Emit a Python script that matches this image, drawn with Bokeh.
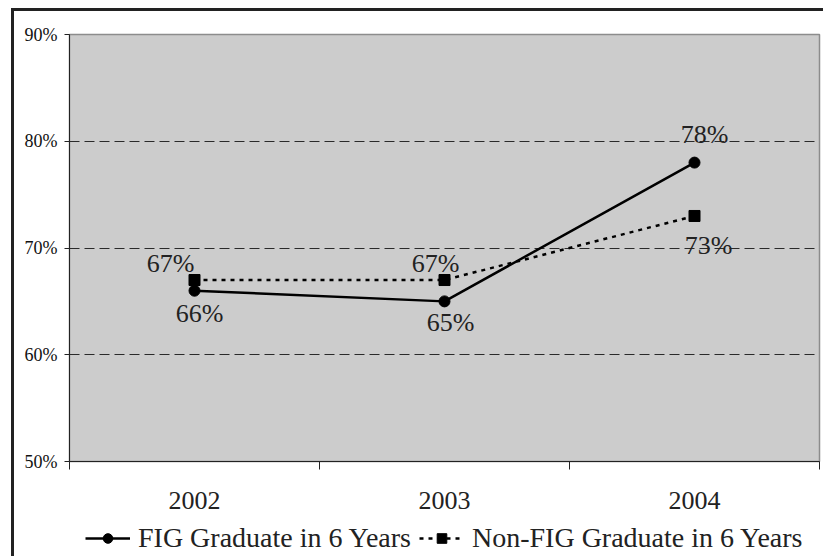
from bokeh.plotting import figure
from bokeh.layouts import column
from bokeh.models import (FixedTicker, Legend, LegendItem, InlineStyleSheet,
                          ColumnDataSource, Range1d)
from bokeh.core.properties import value
from bokeh.embed import file_html
from bokeh.resources import INLINE

# Graduation within six years, by entering cohort
years = ["2002", "2003", "2004"]
fig_grad = [66, 65, 78]
non_fig_grad = [67, 67, 73]
y_ticks = [50, 60, 70, 80, 90]
y_tick_labels = ["50%", "60%", "70%", "80%", "90%"]
series_names = ["FIG Graduate in 6 Years", "Non-FIG Graduate in 6 Years"]

# screen offsets of the value labels (px, right / down)
fig_label_dx = [5, 6, 10]
fig_label_dy = [23, 21, -28]
non_label_dx = [-24, -9, 14]
non_label_dy = [-17, -17, 30]

FONT = "Liberation Serif"
INK = "#222222"
xs = [i + 0.5 for i in range(len(years))]

p = figure(width=823, height=518, output_backend="svg", toolbar_location=None,
           x_range=Range1d(0, len(years)), y_range=Range1d(50, 90),
           min_border_left=69, min_border_right=4, min_border_top=34,
           min_border_bottom=57)
p.background_fill_color = "#cccccc"
p.border_fill_color = "white"
p.outline_line_color = "#8c8c8c"
p.outline_line_width = 1.5

# x axis: labels at category centres, ticks on the category boundaries
p.xaxis.ticker = FixedTicker(ticks=xs, minor_ticks=list(range(len(years) + 1)))
p.xaxis.major_label_overrides = {x: y for x, y in zip(xs, years)}
p.xaxis.major_tick_out = 0
p.xaxis.major_tick_in = 0
p.xaxis.minor_tick_out = 8
p.xaxis.minor_tick_in = 0
p.xaxis.minor_tick_line_color = INK
p.xaxis.axis_line_color = INK
p.xaxis.major_label_text_font = FONT
p.xaxis.major_label_text_font_size = "26px"
p.xaxis.major_label_text_color = INK
p.xaxis.major_label_standoff = 22

# y axis in percent
p.yaxis.ticker = FixedTicker(ticks=y_ticks, minor_ticks=[])
p.yaxis.major_label_overrides = {t: s for t, s in zip(y_ticks, y_tick_labels)}
p.yaxis.major_tick_out = 5
p.yaxis.major_tick_in = 0
p.yaxis.major_tick_line_color = INK
p.yaxis.axis_line_color = INK
p.yaxis.major_label_text_font = FONT
p.yaxis.major_label_text_font_size = "18px"
p.yaxis.major_label_text_color = "#111111"
p.yaxis.major_label_standoff = 7

p.xgrid.grid_line_color = None
p.ygrid.ticker = FixedTicker(ticks=y_ticks[1:-1])
p.ygrid.grid_line_color = "#2a2a2a"
p.ygrid.grid_line_dash = "10 5"
p.ygrid.grid_line_width = 1

src = ColumnDataSource(dict(x=xs, fig=fig_grad, non=non_fig_grad,
                            fig_lbl=[f"{v}%" for v in fig_grad],
                            non_lbl=[f"{v}%" for v in non_fig_grad],
                            fdx=fig_label_dx, fdy=fig_label_dy,
                            ndx=non_label_dx, ndy=non_label_dy))

line_fig = dict(line_color="black", line_width=2.5)
line_non = dict(line_color="black", line_width=2.5, line_dash="4 5")
dot = dict(marker="circle", size=11, fill_color="black", line_color="black")
sq = dict(marker="square", size=11, fill_color="black", line_color="black")

p.line("x", "fig", source=src, **line_fig)
p.scatter("x", "fig", source=src, **dot)
p.line("x", "non", source=src, **line_non)
p.scatter("x", "non", source=src, **sq)

p.text("x", "fig", text="fig_lbl", source=src, x_offset="fdx", y_offset="fdy",
       text_font=value(FONT), text_font_size="26px", text_color=INK,
       text_align="center", text_baseline="middle")
p.text("x", "non", text="non_lbl", source=src, x_offset="ndx", y_offset="ndy",
       text_font=value(FONT), text_font_size="26px", text_color=INK,
       text_align="center", text_baseline="middle")

# legend strip under the chart: same glyph styles, drawn outside its view range
lg = figure(width=823, height=38, output_backend="svg", toolbar_location=None,
            x_range=Range1d(10, 11), y_range=Range1d(0, 1),
            min_border=0, min_border_left=0, min_border_right=0,
            min_border_top=0, min_border_bottom=0)
lg.axis.visible = False
lg.grid.visible = False
lg.outline_line_color = None
lg.background_fill_color = "white"
lg.border_fill_color = "white"
r1 = [lg.line("x", "fig", source=src, **line_fig),
      lg.scatter("x", "fig", source=src, **dot)]
r2 = [lg.line("x", "non", source=src, **line_non),
      lg.scatter("x", "non", source=src, **sq)]
legend = Legend(items=[LegendItem(label=series_names[0], renderers=r1),
                       LegendItem(label=series_names[1], renderers=r2)],
                orientation="horizontal", location=(16, 2),
                glyph_width=45, glyph_height=24, label_standoff=8, spacing=8,
                padding=0, margin=0, border_line_color=None,
                background_fill_alpha=0, label_height=24,
                label_text_font=FONT, label_text_font_size="28px",
                label_text_color=INK)
lg.add_layout(legend)

layout = column(p, lg, spacing=0)

# outer frame of the whole chart
layout.stylesheets = [InlineStyleSheet(css="""
:host { position: relative; }
:host::after {
  content: "";
  position: absolute;
  left: 11px; top: 8px; width: 900px; height: 700px;
  border: 3px solid #222222;
  pointer-events: none;
}
""")]

open("out.html", "w").write(file_html(layout, INLINE))
